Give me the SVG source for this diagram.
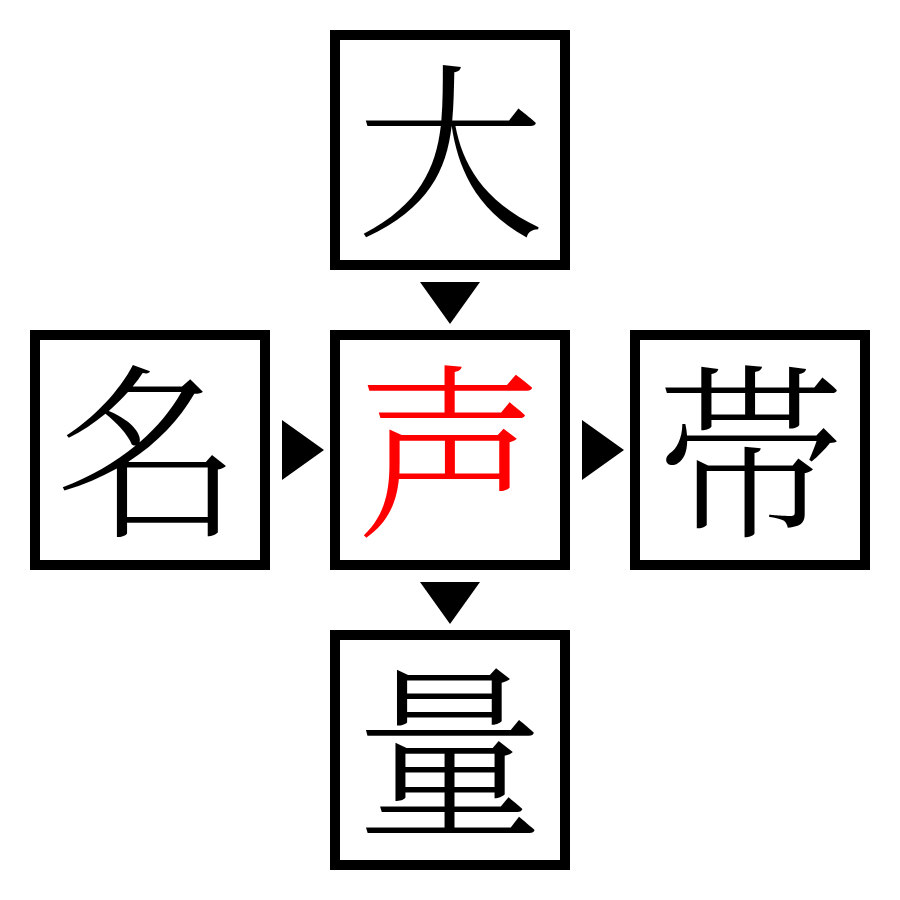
<svg xmlns="http://www.w3.org/2000/svg" width="900" height="900" viewBox="0 0 900 900">
<style>
.box{fill:#fff;stroke:#000;stroke-width:10}
.ch{font-family:"Noto Serif CJK JP","Noto Sans CJK JP",serif;font-size:188px;font-weight:300;text-anchor:middle;fill:#000}
.red{fill:#f00}
.arr{fill:#000}
</style>
<rect width="900" height="900" fill="#fff"/>
<g id="node-top"><rect class="box" x="335" y="35" width="230" height="230"/><text class="ch" x="450" y="222">大</text></g>
<g id="node-left"><rect class="box" x="35" y="335" width="230" height="230"/><text class="ch" x="150" y="522">名</text></g>
<g id="node-center"><rect class="box" x="335" y="335" width="230" height="230"/><text class="ch red" x="450" y="522">声</text></g>
<g id="node-right"><rect class="box" x="635" y="335" width="230" height="230"/><text class="ch" x="750" y="522">帯</text></g>
<g id="node-bottom"><rect class="box" x="335" y="635" width="230" height="230"/><text class="ch" x="450" y="822">量</text></g>
<g id="connectors">
<polygon class="arr" points="420,282 480,282 450,324"/>
<polygon class="arr" points="282,420 282,480 324,450"/>
<polygon class="arr" points="582,420 582,480 624,450"/>
<polygon class="arr" points="420,582 480,582 450,624"/>
</g>
</svg>
